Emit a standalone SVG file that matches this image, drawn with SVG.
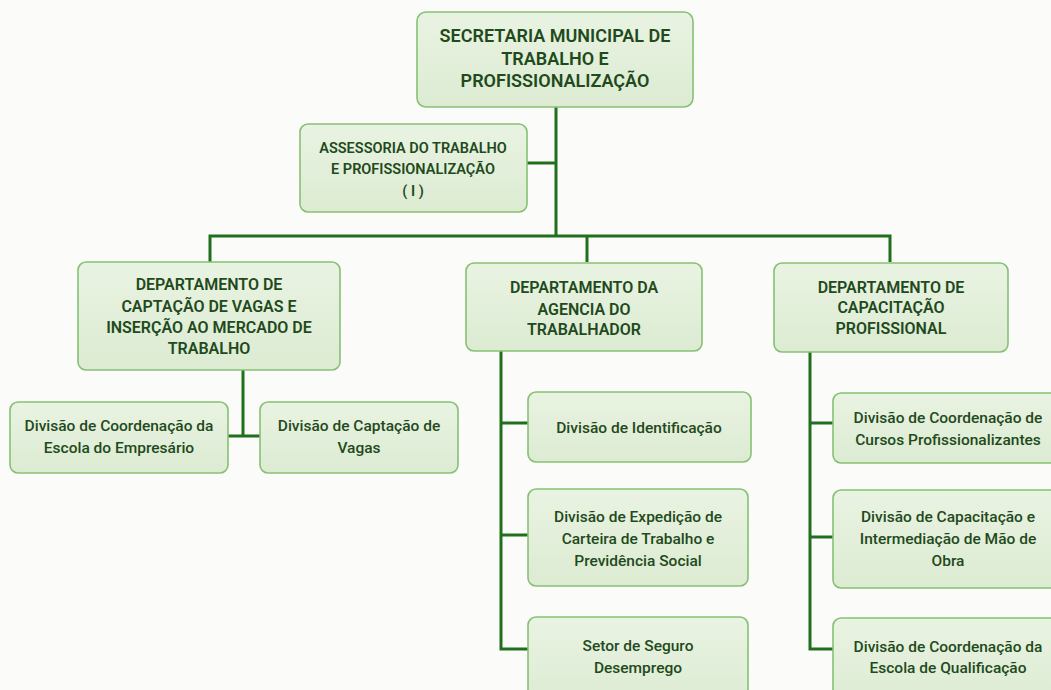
<svg xmlns="http://www.w3.org/2000/svg" width="1051" height="690" viewBox="0 0 1051 690">
<defs>
<linearGradient id="g" x1="0" y1="0" x2="0" y2="1">
<stop offset="0" stop-color="#e9f3e2"/>
<stop offset="1" stop-color="#dcebd2"/>
</linearGradient>
<style>
.box{fill:url(#g);stroke:#86c173;stroke-width:1.6}
.cap{font-family:Roboto,"Liberation Sans",sans-serif;font-weight:600;fill:#1f4a1c;text-anchor:middle}
.low{font-family:Roboto,"Liberation Sans",sans-serif;font-weight:500;fill:#1f4a1c;text-anchor:middle;font-size:15.5px}
.ln{fill:none;stroke:#1f6f1c;stroke-width:3}
</style>
</defs>
<rect width="1051" height="690" fill="#fbfcfa"/>
<g id="connectors">
<path class="ln" d="M556 107V236M527 163H556M210 262V236H890V262M587 236V262"/>
<path class="ln" d="M243 370V436M228 436H260"/>
<path class="ln" d="M501 351V649H528M501 423H528M501 535H528"/>
<path class="ln" d="M810 352V649H833M810 423H833M810 537H833"/>
</g>
<g id="secretaria">
<rect class="box" x="417" y="12" width="276" height="95" rx="9"/>
<text class="cap" font-size="18" x="555"><tspan x="555" y="42">SECRETARIA MUNICIPAL DE</tspan><tspan x="555" y="65">TRABALHO E</tspan><tspan x="555" y="87">PROFISSIONALIZAÇÃO</tspan></text>
</g>
<g id="assessoria">
<rect class="box" x="300" y="124" width="227" height="88" rx="8"/>
<text class="cap" font-size="14.5" x="413"><tspan x="413" y="153">ASSESSORIA DO TRABALHO</tspan><tspan x="413" y="174">E PROFISSIONALIZAÇÃO</tspan><tspan x="413" y="196">( I )</tspan></text>
</g>
<g id="dept-captacao">
<rect class="box" x="78" y="262" width="262" height="108" rx="8"/>
<text class="cap" font-size="16" x="209"><tspan x="209" y="290">DEPARTAMENTO DE</tspan><tspan x="209" y="312">CAPTAÇÃO DE VAGAS E</tspan><tspan x="209" y="333">INSERÇÃO AO MERCADO DE</tspan><tspan x="209" y="354">TRABALHO</tspan></text>
</g>
<g id="dept-agencia">
<rect class="box" x="466" y="263" width="236" height="88" rx="8"/>
<text class="cap" font-size="16" x="584"><tspan x="584" y="293">DEPARTAMENTO DA</tspan><tspan x="584" y="315">AGENCIA DO</tspan><tspan x="584" y="335">TRABALHADOR</tspan></text>
</g>
<g id="dept-capacitacao">
<rect class="box" x="774" y="263" width="234" height="89" rx="8"/>
<text class="cap" font-size="16" x="891"><tspan x="891" y="293">DEPARTAMENTO DE</tspan><tspan x="891" y="313">CAPACITAÇÃO</tspan><tspan x="891" y="334">PROFISSIONAL</tspan></text>
</g>
<g id="div-escola-empresario">
<rect class="box" x="10" y="402" width="218" height="71" rx="8"/>
<text class="low" x="119"><tspan x="119" y="431">Divisão de Coordenação da</tspan><tspan x="119" y="453">Escola do Empresário</tspan></text>
</g>
<g id="div-captacao-vagas">
<rect class="box" x="260" y="402" width="198" height="71" rx="8"/>
<text class="low" x="359"><tspan x="359" y="431">Divisão de Captação de</tspan><tspan x="359" y="453">Vagas</tspan></text>
</g>
<g id="div-identificacao">
<rect class="box" x="528" y="392" width="223" height="70" rx="8"/>
<text class="low" x="639"><tspan x="639" y="433">Divisão de Identificação</tspan></text>
</g>
<g id="div-expedicao">
<rect class="box" x="528" y="489" width="220" height="97" rx="8"/>
<text class="low" x="638"><tspan x="638" y="522">Divisão de Expedição de</tspan><tspan x="638" y="544">Carteira de Trabalho e</tspan><tspan x="638" y="566">Previdência Social</tspan></text>
</g>
<g id="setor-seguro">
<rect class="box" x="528" y="617" width="220" height="90" rx="8"/>
<text class="low" x="638"><tspan x="638" y="651">Setor de Seguro</tspan><tspan x="638" y="673">Desemprego</tspan></text>
</g>
<g id="div-cursos">
<rect class="box" x="833" y="393" width="231" height="70" rx="8"/>
<text class="low" x="948"><tspan x="948" y="423">Divisão de Coordenação de</tspan><tspan x="948" y="445">Cursos Profissionalizantes</tspan></text>
</g>
<g id="div-mao-obra">
<rect class="box" x="833" y="490" width="231" height="98" rx="8"/>
<text class="low" x="948"><tspan x="948" y="522">Divisão de Capacitação e</tspan><tspan x="948" y="544">Intermediação de Mão de</tspan><tspan x="948" y="566">Obra</tspan></text>
</g>
<g id="div-qualificacao">
<rect class="box" x="833" y="618" width="231" height="90" rx="8"/>
<text class="low" x="948"><tspan x="948" y="652">Divisão de Coordenação da</tspan><tspan x="948" y="673">Escola de Qualificação</tspan></text>
</g>
</svg>
